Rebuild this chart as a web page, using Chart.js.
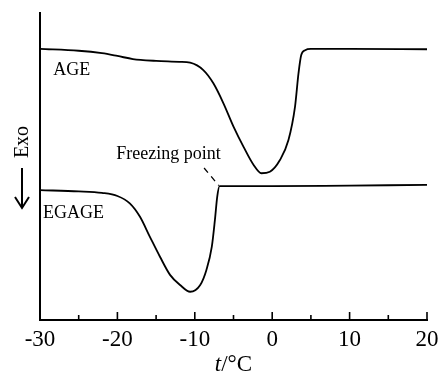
<!DOCTYPE html>
<html>
<head>
<meta charset="utf-8">
<script src="https://cdn.jsdelivr.net/npm/chart.js@4"></script>
<style>
  body { margin: 0; background: #fff; }
</style>
</head>
<body>
<canvas id="dsc" width="438" height="372"></canvas>
<script>
    // Temperaturas (°C) e sinal (unidades arbitrarias)
    const tAGE = [-30, -25, -22, -20, -18, -17, -15, -12, -10.6, -8.9, -7.6, -6.3, -5, -3.7, -2.4, -1.4, -0.3, 1, 2.1, 2.95, 3.4, 3.75, 4.25, 5, 10, 20];
    const yAGE = [88.3, 87.7, 86.9, 86.0, 85.0, 84.7, 84.4, 84.1, 83.8, 81.4, 77.1, 70.6, 63.0, 56.4, 50.5, 47.8, 48.3, 52.1, 58.6, 69.5, 80.4, 86.3, 87.9, 88.3, 88.3, 88.2];

    const tEGAGE = [-30, -25, -22, -20, -18.4, -17.1, -15.8, -14.5, -13.2, -11.9, -10.6, -9.3, -8.5, -7.8, -7.4, -7.1, -6.8, 0, 10, 20];
    const yEGAGE = [42.3, 41.9, 41.4, 40.4, 38.0, 33.7, 27.1, 20.6, 14.7, 11.4, 9.2, 11.4, 16.3, 23.9, 32.6, 40.2, 43.6, 43.6, 43.8, 44.0];

    const xTicksMajor = [-30, -20, -10, 0, 10, 20];

    const serif = '"Liberation Serif", "Times New Roman", serif';

    function pontos(xs, ys) {
        return xs.map((x, i) => ({ x: x, y: ys[i] }));
    }

    // Plugin: marcas internas no eixo x, titulos e anotacoes
    const extras = {
        id: 'extras',
        afterDraw(chart) {
            const c = chart.ctx;
            const xs = chart.scales.x;
            const ys = chart.scales.y;
            const area = chart.chartArea;
            c.save();
            c.strokeStyle = '#000';
            c.fillStyle = '#000';

            // marcas do eixo x viradas para dentro
            c.lineWidth = 1.6;
            xs.ticks.forEach(tk => {
                const px = xs.getPixelForValue(tk.value);
                const len = xTicksMajor.includes(tk.value) ? 8 : 5;
                c.beginPath();
                c.moveTo(px, area.bottom);
                c.lineTo(px, area.bottom - len);
                c.stroke();
            });

            // rotulos das curvas
            c.font = '18px ' + serif;
            c.textAlign = 'left';
            c.textBaseline = 'middle';
            c.fillText('AGE', xs.getPixelForValue(-28.3), ys.getPixelForValue(81.4));
            c.fillText('EGAGE', xs.getPixelForValue(-29.6), ys.getPixelForValue(34.9));

            // anotacao do ponto de congelamento
            c.textAlign = 'center';
            c.fillText('Freezing point', xs.getPixelForValue(-13.4), ys.getPixelForValue(54));
            c.lineWidth = 1.3;
            c.setLineDash([6, 5]);
            c.beginPath();
            c.moveTo(xs.getPixelForValue(-8.8), ys.getPixelForValue(49.5));
            c.lineTo(xs.getPixelForValue(-6.9), ys.getPixelForValue(43.8));
            c.stroke();
            c.setLineDash([]);

            // titulo do eixo y: seta + Exo
            const ax = area.left - 18;
            c.save();
            c.translate(ax + 1, 142);
            c.rotate(-Math.PI / 2);
            c.textAlign = 'center';
            c.font = '20px ' + serif;
            c.fillText('Exo', 0, 0);
            c.restore();
            c.lineWidth = 2;
            c.beginPath();
            c.moveTo(ax, 168);
            c.lineTo(ax, 207);
            c.stroke();
            c.beginPath();
            c.moveTo(ax - 7, 197);
            c.lineTo(ax, 208);
            c.lineTo(ax + 7, 197);
            c.stroke();

            // titulo do eixo x: t/°C (t em italico)
            const cx = (area.left + area.right) / 2;
            const ty = 365;
            c.textBaseline = 'middle';
            c.font = 'italic 23px ' + serif;
            const wT = c.measureText('t').width;
            c.font = '23px ' + serif;
            const wR = c.measureText('/°C').width;
            const x0 = cx - (wT + wR) / 2;
            c.textAlign = 'left';
            c.font = 'italic 23px ' + serif;
            c.fillText('t', x0, ty);
            c.font = '23px ' + serif;
            c.fillText('/°C', x0 + wT, ty);

            c.restore();
        }
    };

    const grafico = new Chart(document.getElementById('dsc').getContext('2d'), {
        type: 'line',
        data: {
            datasets: [
                {
                    label: 'AGE',
                    data: pontos(tAGE, yAGE),
                    borderColor: '#000',
                    borderWidth: 1.8,
                    pointRadius: 0,
                    cubicInterpolationMode: 'monotone',
                    fill: false
                },
                {
                    label: 'EGAGE',
                    data: pontos(tEGAGE, yEGAGE),
                    borderColor: '#000',
                    borderWidth: 1.8,
                    pointRadius: 0,
                    cubicInterpolationMode: 'monotone',
                    fill: false
                }
            ]
        },
        options: {
            responsive: false,
            animation: false,
            layout: { padding: { top: 13, right: 11, left: 0, bottom: 0 } },
            plugins: {
                legend: { display: false },
                tooltip: { enabled: false }
            },
            scales: {
                x: {
                    type: 'linear',
                    min: -30,
                    max: 20,
                    grid: { display: false, drawTicks: false },
                    border: { display: true, color: '#000', width: 2 },
                    ticks: {
                        stepSize: 5,
                        padding: 6,
                        color: '#000',
                        maxRotation: 0,
                        autoSkip: false,
                        font: { family: serif, size: 23 },
                        callback: v => (xTicksMajor.includes(v) ? String(v) : '')
                    },
                    afterFit: s => { s.height = 52; s.paddingLeft = 0; s.paddingRight = 0; }
                },
                y: {
                    min: 0,
                    max: 100,
                    grid: { display: false, drawTicks: false },
                    border: { display: true, color: '#000', width: 2 },
                    ticks: { display: false },
                    afterFit: s => { s.width = 40; }
                }
            }
        },
        plugins: [extras]
    });
</script>
</body>
</html>
